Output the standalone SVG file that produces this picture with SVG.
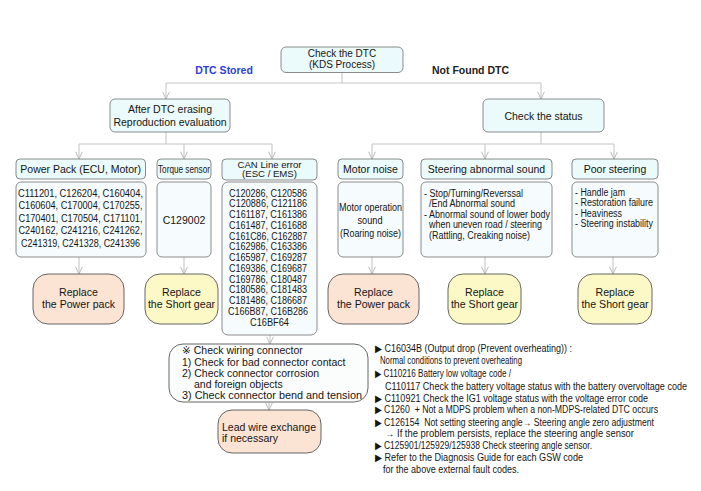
<svg xmlns="http://www.w3.org/2000/svg" width="701" height="491" viewBox="0 0 701 491">
<style>
text{font-family:"Liberation Sans",Arial,"DejaVu Sans",sans-serif;fill:#151515}
.t10{font-size:10px}.t105{font-size:10.5px}.t11{font-size:11px}.rp{font-size:10.6px}
.c{text-anchor:middle}
.box{fill:#ebfafa;stroke:#6e6e6e;stroke-width:0.8}
.body{fill:#f6fcfd;stroke:#6e6e6e;stroke-width:0.8}
.peach{fill:#fce4d5;stroke:#555;stroke-width:0.9}
.yel{fill:#fcf9c6;stroke:#555;stroke-width:0.9}
.wire{fill:#fbfdfd;stroke:#555;stroke-width:0.9}
.ln{fill:none;stroke:#c6c6c6;stroke-width:1.1}
.ar{fill:none;stroke:#c6c6c6;stroke-width:1.1;marker-end:url(#v)}
</style>
<defs>
<marker id="v" viewBox="0 0 10 10" refX="10" refY="5" markerWidth="8" markerHeight="8" markerUnits="userSpaceOnUse" orient="auto">
<path d="M1,0.8 L10,5 L1,9.2" fill="none" stroke="#b8b8b8" stroke-width="1.2"/>
</marker>
</defs>
<rect width="701" height="491" fill="#fff"/>

<g id="connectors">
<path class="ln" d="M342,72 V83 M166,83 H541"/>
<path class="ar" d="M166,83 V99"/>
<path class="ar" d="M541,83 V99"/>
<path class="ln" d="M166,132 V144 M79,144 H272"/>
<path class="ar" d="M79,144 V159"/>
<path class="ar" d="M184,144 V159"/>
<path class="ar" d="M272,144 V159"/>
<path class="ln" d="M541,132 V144 M372,144 H614"/>
<path class="ar" d="M372,144 V159"/>
<path class="ar" d="M485,144 V159"/>
<path class="ar" d="M614,144 V159"/>
<path class="ar" d="M79,257 V274"/>
<path class="ar" d="M184,257 V274"/>
<path class="ar" d="M372,257 V274"/>
<path class="ar" d="M485,257 V274"/>
<path class="ar" d="M613,257 V274"/>
<path class="ar" d="M270,335 V344"/>
<path class="ar" d="M269,402 V410"/>
</g>

<g id="labels">
<text x="224" y="73.7" class="t105 c" style="font-weight:bold;fill:#2b3fd6">DTC Stored</text>
<text x="470.5" y="73.7" class="t105 c" style="font-weight:bold;fill:#222">Not Found DTC</text>
</g>

<g id="check-dtc">
<rect class="box" x="281" y="47" width="122" height="25.5" rx="5"/>
<text x="342" y="56.5" class="t10 c">Check the DTC</text>
<text x="342" y="67.5" class="t10 c">(KDS Process)</text>
</g>

<g id="after-dtc">
<rect class="box" x="110" y="99" width="120" height="33" rx="5"/>
<text x="170" y="112.7" class="t105 c">After DTC erasing</text>
<text x="170" y="125.7" class="t105 c">Reproduction evaluation</text>
</g>

<g id="check-status">
<rect class="box" x="483" y="99" width="121" height="33" rx="5"/>
<text x="543.5" y="119.7" class="t105 c">Check the status</text>
</g>

<g id="power-pack">
<rect class="box" x="16" y="159" width="129.5" height="20" rx="4"/>
<text x="80.7" y="172.7" class="t105 c">Power Pack (ECU, Motor)</text>
<rect class="body" x="16" y="182" width="130" height="75" rx="5"/>
<text x="80.5" y="196.5" class="t10 c" textLength="125" lengthAdjust="spacingAndGlyphs">C111201, C126204, C160404,</text>
<text x="80.5" y="209" class="t10 c" textLength="124" lengthAdjust="spacingAndGlyphs">C160604, C170004, C170255,</text>
<text x="80.5" y="221.7" class="t10 c" textLength="124" lengthAdjust="spacingAndGlyphs">C170401, C170504, C171101,</text>
<text x="80.5" y="234.4" class="t10 c" textLength="124" lengthAdjust="spacingAndGlyphs">C240162, C241216, C241262,</text>
<text x="80.5" y="247.1" class="t10 c" textLength="119" lengthAdjust="spacingAndGlyphs">C241319, C241328, C241396</text>
</g>

<g id="torque-sensor">
<rect class="box" x="157" y="159" width="54" height="20" rx="4"/>
<text x="158" y="172.7" class="t105" textLength="52" lengthAdjust="spacingAndGlyphs">Torque sensor</text>
<rect class="body" x="157" y="182" width="54" height="75" rx="5"/>
<text x="184" y="223.7" class="t105 c">C129002</text>
</g>

<g id="can-line">
<rect class="box" x="222" y="159" width="95" height="21" rx="4"/>
<text x="269.5" y="167.6" class="c" style="font-size:9.6px">CAN Line error</text>
<text x="269.5" y="177.2" class="c" style="font-size:9.6px">(ESC / EMS)</text>
<rect class="body" x="222" y="182" width="95" height="153" rx="6"/>
<text class="t10 c">
<tspan x="269.5" y="196.5" textLength="78" lengthAdjust="spacingAndGlyphs">C120286, C120586</tspan>
<tspan x="269.5" y="207.2" textLength="78" lengthAdjust="spacingAndGlyphs">C120886, C121186</tspan>
<tspan x="269.5" y="218" textLength="78" lengthAdjust="spacingAndGlyphs">C161187, C161386</tspan>
<tspan x="269.5" y="228.7" textLength="78" lengthAdjust="spacingAndGlyphs">C161487, C161688</tspan>
<tspan x="269.5" y="239.5" textLength="78" lengthAdjust="spacingAndGlyphs">C161C86, C162887</tspan>
<tspan x="269.5" y="250.2" textLength="78" lengthAdjust="spacingAndGlyphs">C162986, C163386</tspan>
<tspan x="269.5" y="261" textLength="78" lengthAdjust="spacingAndGlyphs">C165987, C169287</tspan>
<tspan x="269.5" y="271.7" textLength="78" lengthAdjust="spacingAndGlyphs">C169386, C169687</tspan>
<tspan x="269.5" y="282.5" textLength="78" lengthAdjust="spacingAndGlyphs">C169786, C180487</tspan>
<tspan x="269.5" y="293.2" textLength="78" lengthAdjust="spacingAndGlyphs">C180586, C181483</tspan>
<tspan x="269.5" y="304" textLength="78" lengthAdjust="spacingAndGlyphs">C181486, C186687</tspan>
<tspan x="269.5" y="314.7" textLength="80" lengthAdjust="spacingAndGlyphs">C166B87, C16B286</tspan>
<tspan x="269.5" y="325.5" textLength="39" lengthAdjust="spacingAndGlyphs">C16BF64</tspan>
</text>
</g>

<g id="motor-noise">
<rect class="box" x="338" y="159" width="65" height="20" rx="4"/>
<text x="370.5" y="172.7" class="t105 c">Motor noise</text>
<rect class="body" x="338" y="182" width="65" height="75" rx="5"/>
<text x="370.5" y="210.5" class="t10 c" textLength="63" lengthAdjust="spacingAndGlyphs">Motor operation</text>
<text x="370" y="223.5" class="t10 c" textLength="25" lengthAdjust="spacingAndGlyphs">sound</text>
<text x="370.5" y="236.5" class="t10 c" textLength="61" lengthAdjust="spacingAndGlyphs">(Roaring noise)</text>
</g>

<g id="steering-sound">
<rect class="box" x="421" y="159" width="131" height="20" rx="4"/>
<text x="486.5" y="172.7" class="t105 c">Steering abnormal sound</text>
<rect class="body" x="421" y="182" width="131" height="75" rx="5"/>
<text x="424" y="196.5" class="t10" textLength="99" lengthAdjust="spacingAndGlyphs">- Stop/Turning/Reverssal</text>
<text x="429" y="207.1" class="t10" textLength="86" lengthAdjust="spacingAndGlyphs">/End Abnormal sound</text>
<text x="424" y="217.7" class="t10" textLength="126" lengthAdjust="spacingAndGlyphs">- Abnormal sound of lower body</text>
<text x="429" y="228.3" class="t10" textLength="113" lengthAdjust="spacingAndGlyphs">when uneven road / steering</text>
<text x="429" y="238.9" class="t10" textLength="101" lengthAdjust="spacingAndGlyphs">(Rattling, Creaking noise)</text>
</g>

<g id="poor-steering">
<rect class="box" x="572" y="159" width="86" height="20" rx="4"/>
<text x="615" y="172.7" class="t105 c">Poor steering</text>
<rect class="body" x="572" y="182" width="86" height="75" rx="5"/>
<text x="575" y="195.5" class="t10" textLength="50" lengthAdjust="spacingAndGlyphs">- Handle jam</text>
<text x="575" y="206" class="t10" textLength="78" lengthAdjust="spacingAndGlyphs">- Restoration failure</text>
<text x="575" y="216.5" class="t10" textLength="47" lengthAdjust="spacingAndGlyphs">- Heaviness</text>
<text x="575" y="227" class="t10" textLength="78" lengthAdjust="spacingAndGlyphs">- Steering instability</text>
</g>

<g id="replace-power-pack-1">
<rect class="peach" x="33" y="274" width="91" height="50" rx="15"/>
<text x="78.5" y="296" class="rp c">Replace</text>
<text x="78.5" y="308" class="rp c">the Power pack</text>
</g>
<g id="replace-short-gear-1">
<rect class="yel" x="145" y="274" width="73" height="50" rx="15"/>
<text x="181.5" y="296" class="rp c">Replace</text>
<text x="181.5" y="308" class="rp c">the Short gear</text>
</g>
<g id="replace-power-pack-2">
<rect class="peach" x="328" y="274" width="91" height="50" rx="15"/>
<text x="373.5" y="296" class="rp c">Replace</text>
<text x="373.5" y="308" class="rp c">the Power pack</text>
</g>
<g id="replace-short-gear-2">
<rect class="yel" x="448" y="274" width="73" height="50" rx="15"/>
<text x="484.5" y="296" class="rp c">Replace</text>
<text x="484.5" y="308" class="rp c">the Short gear</text>
</g>
<g id="replace-short-gear-3">
<rect class="yel" x="578" y="274" width="74" height="50" rx="15"/>
<text x="615" y="296" class="rp c">Replace</text>
<text x="615" y="308" class="rp c">the Short gear</text>
</g>

<g id="wiring-check">
<rect class="wire" x="169" y="344" width="199" height="58" rx="14"/>
<text x="182" y="354" class="t105">※ Check wiring connector</text>
<text x="182" y="365.5" class="t105">1) Check for bad connector contact</text>
<text x="182" y="376.8" class="t105">2) Check connector corrosion</text>
<text x="194" y="388" class="t105">and foreign objects</text>
<text x="182" y="399" class="t105" textLength="180" lengthAdjust="spacingAndGlyphs">3) Check connector bend and tension</text>
</g>

<g id="lead-wire">
<rect class="peach" x="218" y="410" width="103" height="43" rx="14"/>
<text x="222" y="431" class="t105">Lead wire exchange</text>
<text x="222" y="442" class="t105">if necessary</text>
</g>

<g id="notes">
<text x="375" y="351.5" class="t10" textLength="197" lengthAdjust="spacingAndGlyphs">▶ C16034B (Output drop (Prevent overheating)) :</text>
<text x="380" y="363.5" class="t10" textLength="142" lengthAdjust="spacingAndGlyphs">Normal conditions to prevent overheating</text>
<text x="375" y="376.5" class="t10" textLength="136" lengthAdjust="spacingAndGlyphs">▶ C110216 Battery low voltage code /</text>
<text x="385" y="389.5" class="t10" textLength="302" lengthAdjust="spacingAndGlyphs">C110117 Check the battery voltage status with the battery overvoltage code</text>
<text x="375" y="401.5" class="t10" textLength="273" lengthAdjust="spacingAndGlyphs">▶ C110921 Check the IG1 voltage status with the voltage error code</text>
<text x="375" y="412.5" class="t10" textLength="283" lengthAdjust="spacingAndGlyphs" xml:space="preserve">▶ C1260  + Not a MDPS problem when a non-MDPS-related DTC occurs</text>
<text x="375" y="425.5" class="t10" textLength="279" lengthAdjust="spacingAndGlyphs" xml:space="preserve">▶ C126154  Not setting steering angle→ Steering angle zero adjustment</text>
<text x="385" y="436.5" class="t10" textLength="249" lengthAdjust="spacingAndGlyphs">→ If the problem persists, replace the steering angle sensor</text>
<text x="375" y="448.5" class="t10" textLength="217" lengthAdjust="spacingAndGlyphs">▶ C125901/125929/125938 Check steering angle sensor.</text>
<text x="375" y="460.5" class="t10" textLength="208" lengthAdjust="spacingAndGlyphs">▶ Refer to the Diagnosis Guide for each GSW code</text>
<text x="383" y="472.5" class="t10" textLength="136" lengthAdjust="spacingAndGlyphs">for the above external fault codes.</text>
</g>
</svg>
